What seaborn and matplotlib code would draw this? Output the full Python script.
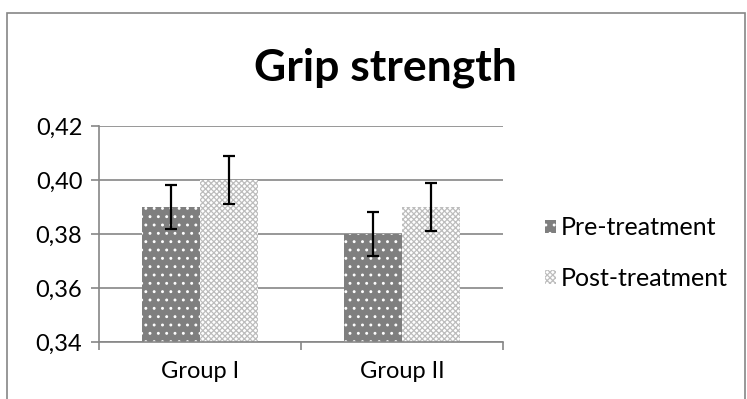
import pandas as pd
import matplotlib.pyplot as plt
import seaborn as sns
from matplotlib.patches import Rectangle
from matplotlib.ticker import FixedLocator, FuncFormatter

# 数据
groups = ['Group I', 'Group II']
series = ['Pre-treatment', 'Post-treatment']
pre_vals = [0.39, 0.38]
post_vals = [0.40, 0.39]
pre_err = [0.008, 0.008]
post_err = [0.009, 0.009]
y_ticks = [0.34, 0.36, 0.38, 0.40, 0.42]

df = pd.DataFrame({
    'Group': groups * 2,
    'Series': [series[0]] * 2 + [series[1]] * 2,
    'Value': pre_vals + post_vals,
})
errs = {series[0]: pre_err, series[1]: post_err}

sns.set_style("white")
plt.rcParams['font.family'] = ['Lato', 'DejaVu Sans']
plt.rcParams['hatch.linewidth'] = 0.9
plt.rcParams['text.color'] = 'black'
plt.rcParams['xtick.labelcolor'] = 'black'
plt.rcParams['ytick.labelcolor'] = 'black'

W, H = 747, 399
fig = plt.figure(figsize=(W / 100, H / 100), dpi=100)
ax = fig.add_axes([99 / W, (H - 342) / H, (503 - 99) / W, (342 - 126) / H])

grey = '#868686'
sns.barplot(data=df, x='Group', y='Value', hue='Series', hue_order=series,
            order=groups, width=0.57, gap=0, ax=ax, legend=False)

# 填充样式
styles = {
    series[0]: dict(fc='#7f7f7f', ec='white', hatch='..'),
    series[1]: dict(fc='white', ec='#bdbdbd', hatch='xxxxxx'),
}
handles = []
for cont, name in zip(ax.containers, series):
    for bar, e in zip(cont, errs[name]):
        st = styles[name]
        bar.set_facecolor(st['fc'])
        bar.set_edgecolor(st['ec'])
        bar.set_hatch(st['hatch'])
        bar.set_linewidth(0)
        cx = bar.get_x() + bar.get_width() / 2
        ax.errorbar(cx, bar.get_height(), yerr=e, color='black', lw=1.6,
                    capsize=4.5, capthick=1.6, zorder=5)
    handles.append(cont[0])

ax.set_ylim(0.34, 0.42)
ax.set_xlim(-0.5, 1.5)
ax.set_yticks(y_ticks)
ax.yaxis.set_major_formatter(FuncFormatter(lambda v, p: f'{v:.2f}'.replace('.', ',')))
ax.yaxis.grid(True, color=grey, lw=1.2)
ax.set_axisbelow(True)
ax.set_xlabel('')
ax.set_ylabel('')
for s in ['top', 'right']:
    ax.spines[s].set_visible(False)
for s in ['left', 'bottom']:
    ax.spines[s].set_color(grey)
    ax.spines[s].set_linewidth(1.2)

ax.tick_params(axis='y', left=True, length=6, width=1.2, color=grey,
               labelsize=17, pad=6, labelcolor='black')
ax.tick_params(axis='x', which='major', length=0, labelsize=17, pad=14, labelcolor='black')
ax.xaxis.set_minor_locator(FixedLocator([-0.5, 0.5, 1.5]))
ax.tick_params(axis='x', which='minor', bottom=True, length=6, width=1.2, color=grey)

fig.text(385 / W, (H - 68) / H, 'Grip strength', ha='center', va='center',
         fontsize=32, fontweight='bold', color='black')

ax.legend(handles, series, loc='center left', bbox_to_anchor=(522 / W, (H - 253) / H),
          bbox_transform=fig.transFigure, frameon=False, fontsize=18,
          handlelength=0.45, handleheight=0.45, handletextpad=0.2, labelspacing=1.1,
          labelcolor='black')

fig.add_artist(Rectangle((7 / W, -0.05), (745 - 7) / W, (H - 13) / H + 0.05,
                         transform=fig.transFigure, fill=False, ec=grey, lw=1.2))

fig.savefig('out.png', dpi=100)
